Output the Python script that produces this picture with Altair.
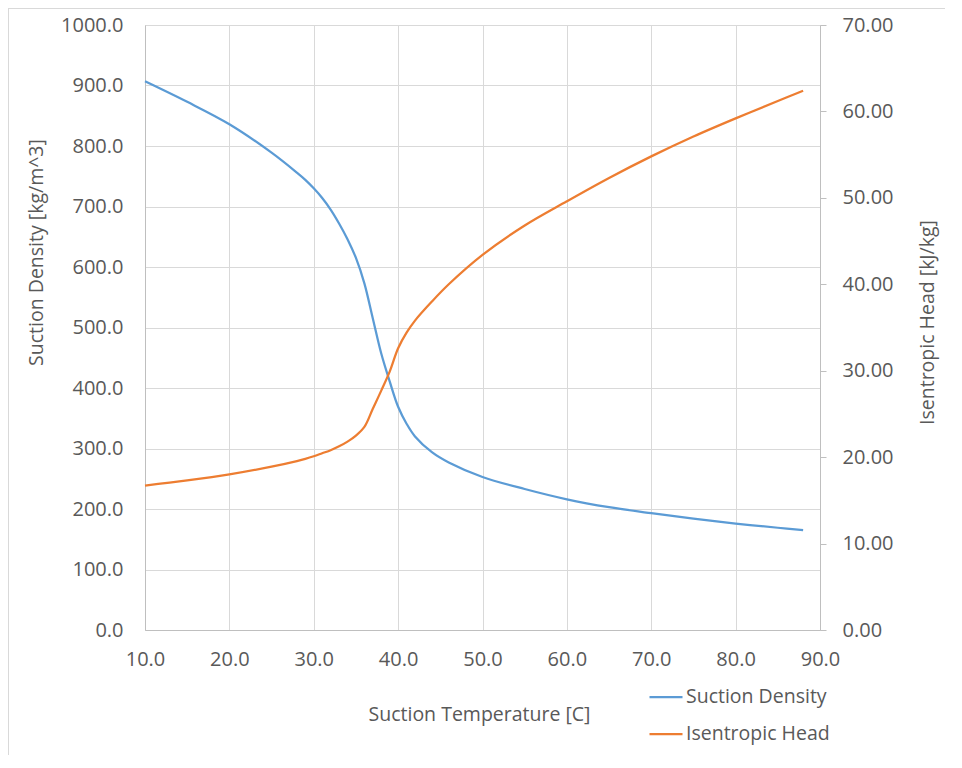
import altair as alt
import pandas as pd

temperature = [10, 15, 20, 25, 28, 29, 30, 31, 32, 33, 34, 35, 36, 37, 38, 39, 40, 41, 42, 44, 46, 50, 55, 60, 65, 70, 75, 80, 85, 88]
density = [907, 873, 836, 789, 756, 744, 730, 714, 695, 672, 646, 615, 573, 515, 457, 411, 369, 341, 320, 294, 277, 253, 233, 216, 203, 193, 184, 176, 169, 165]
head = [16.7, 17.3, 18.0, 18.9, 19.55, 19.8, 20.1, 20.45, 20.8, 21.25, 21.8, 22.5, 23.5, 25.6, 27.7, 29.9, 32.6, 34.4, 35.8, 38.0, 40.0, 43.4, 46.8, 49.6, 52.3, 54.8, 57.1, 59.2, 61.2, 62.4]

series_names = ["Suction Density", "Isentropic Head"]
series_colors = ["#5B9BD5", "#ED7D31"]
x_ticks = [10, 20, 30, 40, 50, 60, 70, 80, 90]
left_ticks = [0, 100, 200, 300, 400, 500, 600, 700, 800, 900, 1000]
right_ticks = [0, 10, 20, 30, 40, 50, 60, 70]

df = pd.DataFrame({"T": temperature, "Density": density, "Head": head})

FONT = "Open Sans"
LABEL = "#595959"
GRID = "#D9D9D9"
AXIS = "#BFBFBF"
LFS = 20
TFS = 19.5

color_scale = alt.Scale(domain=series_names, range=series_colors)
legend = alt.Legend(
    title=None, orient="none", legendX=503, legendY=654,
    symbolType="stroke", symbolSize=1089, symbolStrokeWidth=2.25,
    labelFontSize=TFS, labelFont=FONT, labelColor=LABEL, labelOffset=2,
    rowPadding=9,
)

x_enc = alt.X(
    "T:Q",
    scale=alt.Scale(domain=[10, 90], nice=False, zero=False),
    axis=alt.Axis(
        values=x_ticks, format=".1f", title="Suction Temperature [C]",
        grid=True, gridColor=GRID, ticks=False, domainColor=AXIS, labelFlush=False,
        labelPadding=19, labelFontSize=LFS, labelColor=LABEL, labelFont=FONT,
        titleFontSize=TFS, titleColor=LABEL, titleFont=FONT, titleFontWeight="normal",
        titleY=84, titleBaseline="middle", titleX=334,
    ),
)

dens = alt.Chart(df).transform_calculate(series="'Suction Density'").mark_line(
    strokeWidth=2.25, interpolate="catmull-rom"
).encode(
    x=x_enc,
    y=alt.Y(
        "Density:Q",
        scale=alt.Scale(domain=[0, 1000], nice=False),
        axis=alt.Axis(
            values=left_ticks, format=".1f", title="Suction Density [kg/m^3]",
            grid=True, gridColor=GRID, ticks=False, domainColor=AXIS, labelFlush=False,
            labelPadding=22, labelFontSize=LFS, labelColor=LABEL, labelFont=FONT,
            titleFontSize=TFS, titleColor=LABEL, titleFont=FONT, titleFontWeight="normal",
            titlePadding=14, titleY=227,
        ),
    ),
    color=alt.Color("series:N", scale=color_scale, legend=legend),
)

hd = alt.Chart(df).transform_calculate(series="'Isentropic Head'").mark_line(
    strokeWidth=2.25, interpolate="catmull-rom"
).encode(
    x=x_enc,
    y=alt.Y(
        "Head:Q",
        scale=alt.Scale(domain=[0, 70], nice=False),
        axis=alt.Axis(
            orient="right", values=right_ticks, format=".2f", title="Isentropic Head [kJ/kg]",
            grid=False, ticks=True, tickSize=6, tickColor=AXIS, domainColor=AXIS, labelFlush=False,
            labelPadding=16, labelFontSize=LFS, labelColor=LABEL, labelFont=FONT,
            titleFontSize=TFS, titleColor=LABEL, titleFont=FONT, titleFontWeight="normal",
            titleAngle=270, titleX=107, titleY=297, titleAlign="center", titleBaseline="middle",
        ),
    ),
    color=alt.Color("series:N", scale=color_scale, legend=legend),
)

border = alt.Chart(pd.DataFrame({"a": [0]})).mark_rule(color=GRID, strokeWidth=1).encode(
    x=alt.value(-136.5), y=alt.value(-17), y2=alt.value(730)
)
border_top = alt.Chart(pd.DataFrame({"a": [0]})).mark_rule(color=GRID, strokeWidth=1).encode(
    x=alt.value(-137), x2=alt.value(800), y=alt.value(-16.5)
)

chart = alt.layer(dens, hd, border, border_top).resolve_scale(y="independent").properties(
    width=675, height=605,
    padding={"left": 137, "top": 17, "right": 125, "bottom": 125},
    autosize=alt.AutoSizeParams(type="none"),
).configure_view(stroke=None).configure(background="white")

chart.save("out.html", embed_options={"renderer": "svg", "actions": False})
